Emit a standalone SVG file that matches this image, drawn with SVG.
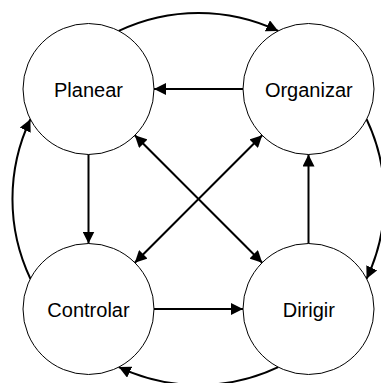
<svg xmlns="http://www.w3.org/2000/svg" width="381" height="383" viewBox="0 0 381 383">
  <style>
    .node circle { fill: #ffffff; stroke: #000000; stroke-width: 1; }
    .node text { font-family: "Liberation Sans", Arial, sans-serif; font-size: 20px; fill: #000000; text-anchor: middle; }
    .conn { fill: none; stroke: #000000; stroke-width: 2; }
  </style>
  <defs>
    <marker id="arrow" markerUnits="userSpaceOnUse" markerWidth="13" markerHeight="12" refX="12" refY="6" orient="auto-start-reverse">
      <path d="M0,0 L12,6 L0,12 z" fill="#000000"/>
    </marker>
  </defs>
  <rect width="381" height="383" fill="#ffffff"/>
  <g id="planear" class="node">
    <circle cx="88.5" cy="89" r="65.5"/>
    <text x="88.5" y="97">Planear</text>
  </g>
  <g id="organizar" class="node">
    <circle cx="308.5" cy="89" r="65.5"/>
    <text x="308.8" y="97">Organizar</text>
  </g>
  <g id="controlar" class="node">
    <circle cx="88.5" cy="309" r="65.5"/>
    <text x="88.5" y="317">Controlar</text>
  </g>
  <g id="dirigir" class="node">
    <circle cx="308.5" cy="309" r="65.5"/>
    <text x="308.8" y="317">Dirigir</text>
  </g>
  <g id="connectors">
    <path class="conn" marker-end="url(#arrow)" d="M118.8,30.9 A186,186 0 0 1 278.2,30.9"/>
    <path class="conn" marker-end="url(#arrow)" d="M366.6,119.3 A186,186 0 0 1 366.6,278.7"/>
    <path class="conn" marker-end="url(#arrow)" d="M278.2,367.1 A186,186 0 0 1 118.8,367.1"/>
    <path class="conn" marker-end="url(#arrow)" d="M30.4,278.7 A186,186 0 0 1 30.4,119.3"/>
    <line class="conn" marker-end="url(#arrow)" x1="243" y1="89" x2="154" y2="89"/>
    <line class="conn" marker-end="url(#arrow)" x1="88.5" y1="154.5" x2="88.5" y2="243.5"/>
    <line class="conn" marker-end="url(#arrow)" x1="154" y1="309" x2="243" y2="309"/>
    <line class="conn" marker-end="url(#arrow)" x1="308.5" y1="243.5" x2="308.5" y2="154.5"/>
    <line class="conn" marker-start="url(#arrow)" marker-end="url(#arrow)" x1="134.8" y1="135.3" x2="262.2" y2="262.7"/>
    <line class="conn" marker-start="url(#arrow)" marker-end="url(#arrow)" x1="262.2" y1="135.3" x2="134.8" y2="262.7"/>
  </g>
</svg>
